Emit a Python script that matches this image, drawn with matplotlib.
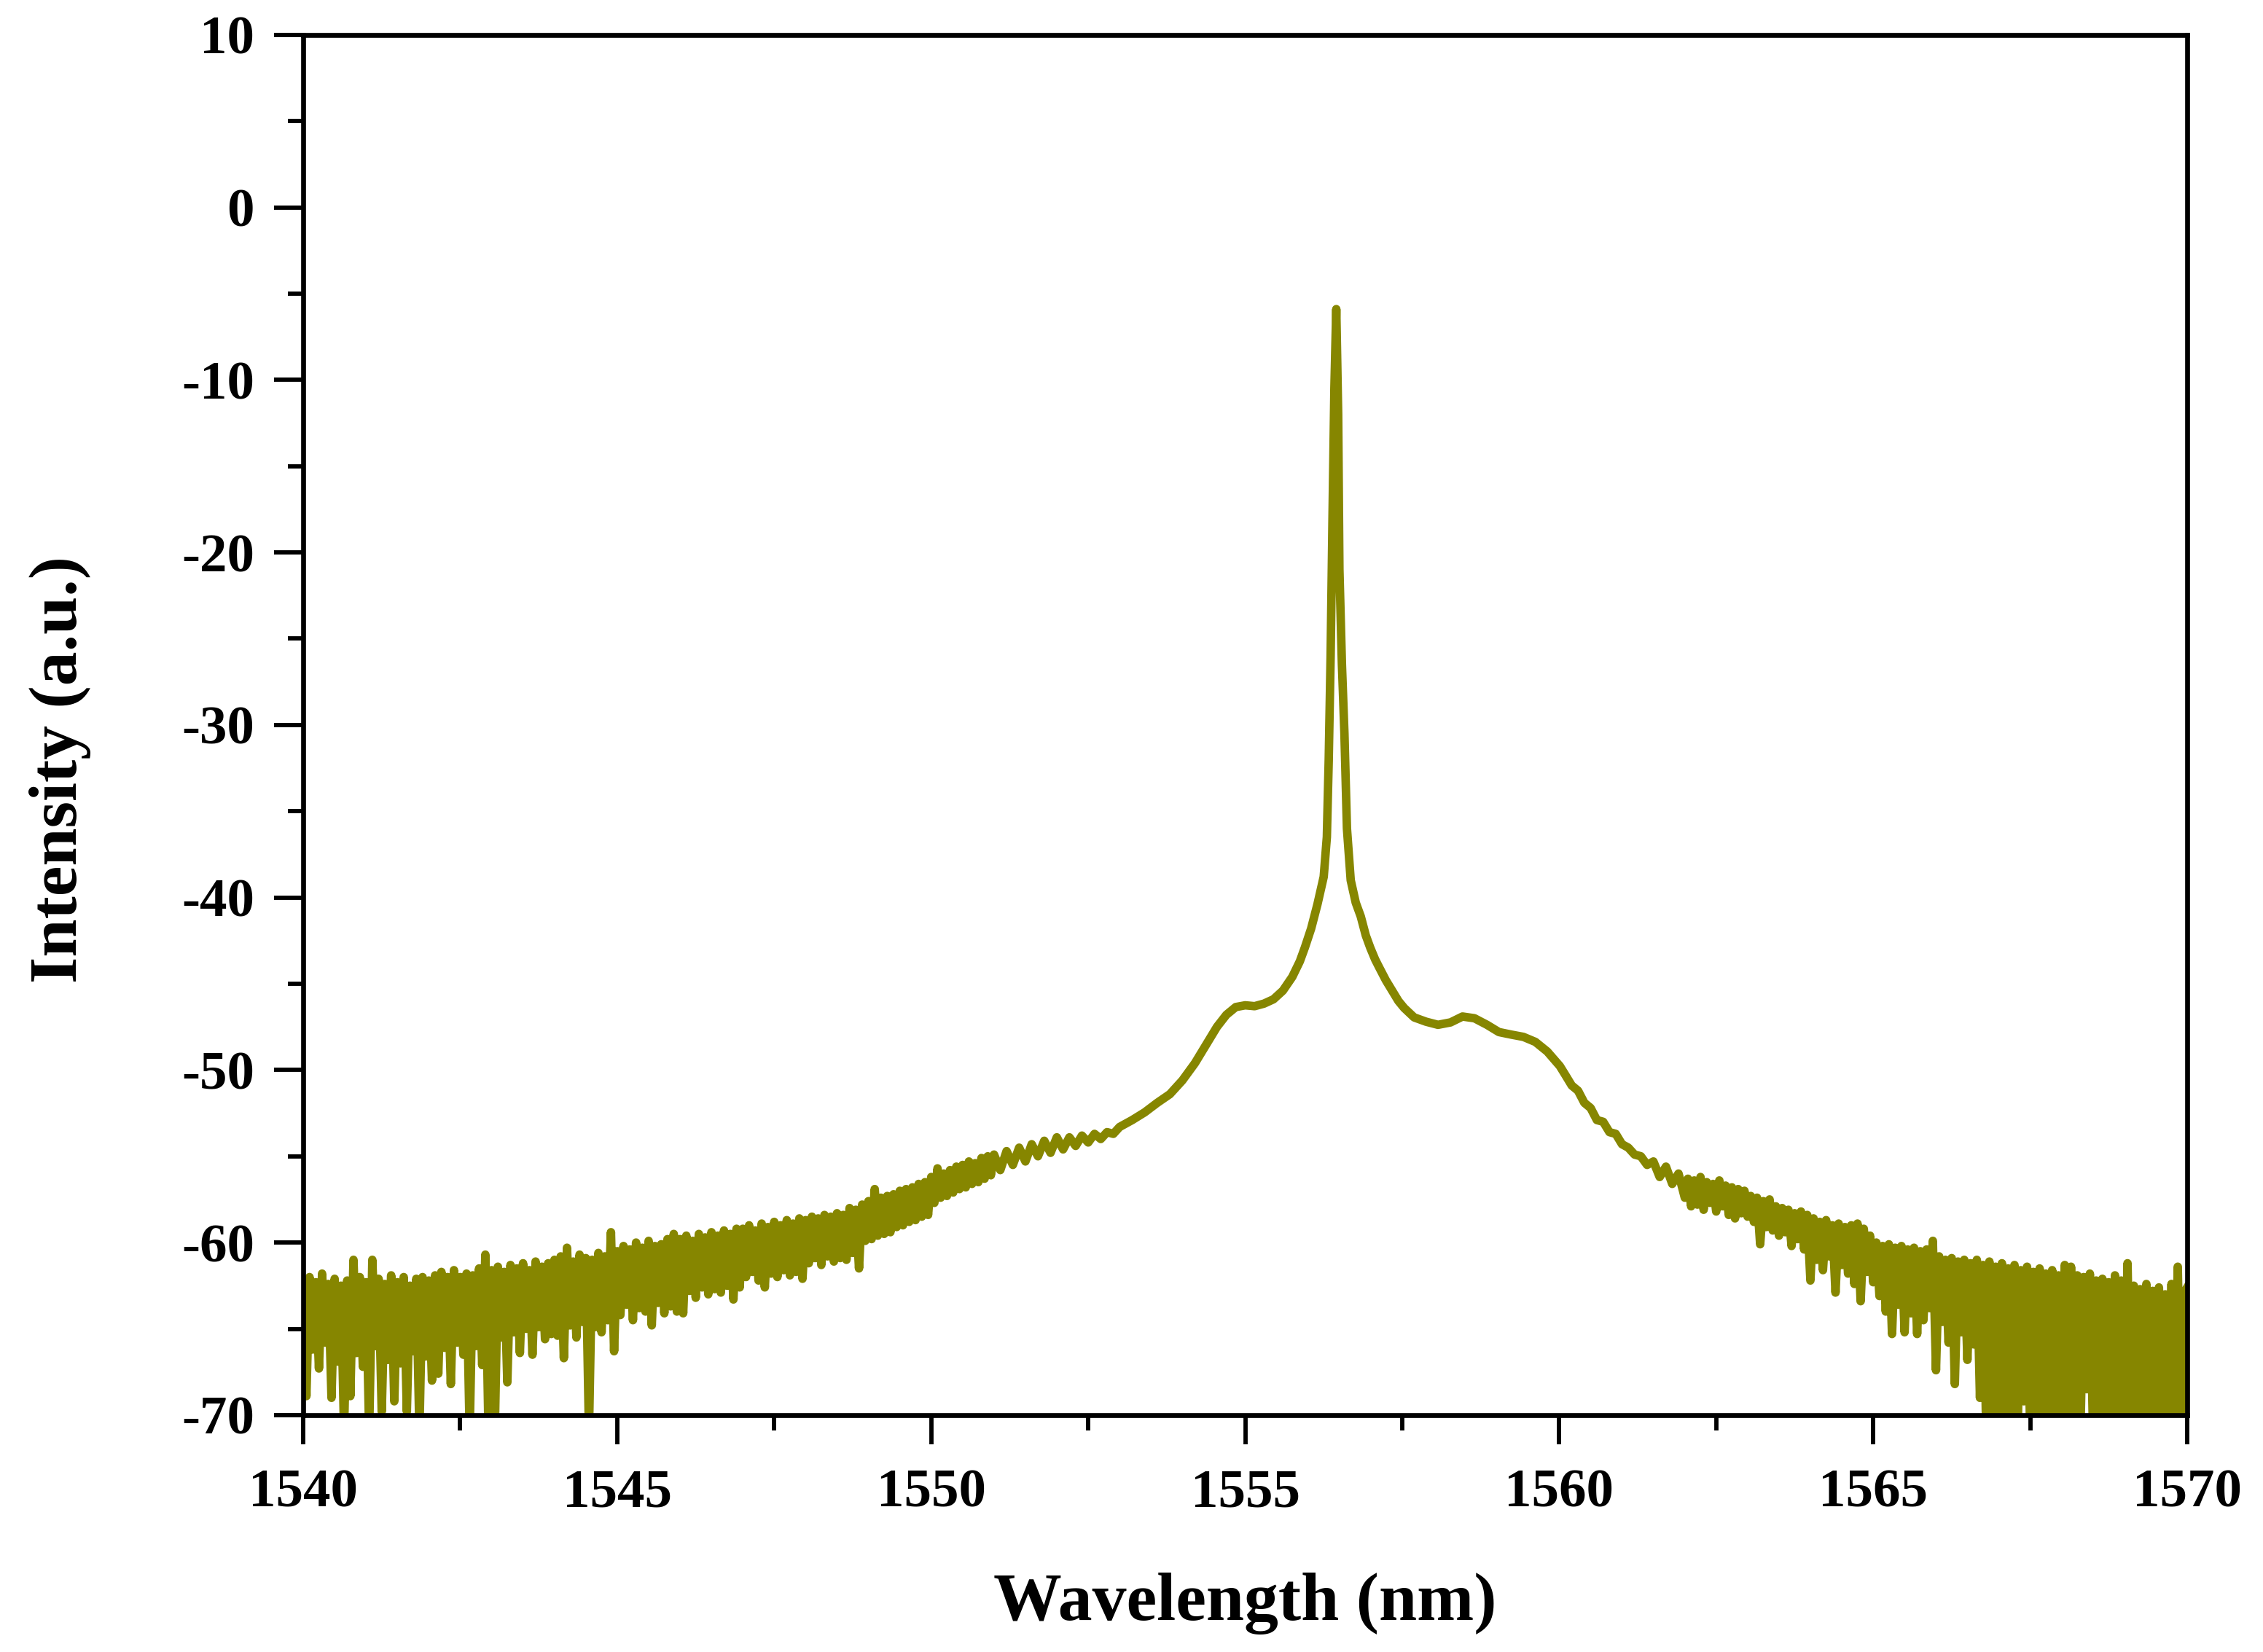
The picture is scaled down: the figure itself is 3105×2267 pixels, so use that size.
import numpy as np
import matplotlib.pyplot as plt
from matplotlib.ticker import MultipleLocator

plt.rcParams['font.family'] = ['Liberation Serif', 'DejaVu Serif']
plt.rcParams['font.weight'] = 'bold'
plt.rcParams['axes.unicode_minus'] = False

# noisy short-wavelength side, 0.05 nm sampling (1540.00 ... 1550.95)
int_a = [
    -62.6, -68.9, -62.0, -66.2, -62.3, -67.3, -61.8, -65.8, -62.4, -69.0,
    -62.1, -66.9, -62.5, -71.0, -62.2, -68.9, -61.0, -66.4, -62.0, -67.2,
    -62.3, -71.0, -61.0, -66.0, -62.1, -69.8, -62.4, -66.8, -61.9, -69.2,
    -62.3, -67.0, -62.0, -69.8, -62.5, -66.3, -62.1, -71.0, -62.0, -66.6,
    -62.2, -68.0, -61.9, -67.6, -61.7, -66.1, -62.0, -68.2, -61.6, -65.8,
    -62.0, -66.5, -61.8, -71.0, -61.9, -66.0, -61.5, -67.1, -60.7, -71.0,
    -61.6, -71.0, -61.4, -65.5, -61.7, -68.1, -61.3, -65.2, -61.5, -66.4,
    -61.2, -65.0, -61.6, -66.5, -61.1, -64.9, -61.4, -65.6, -61.2, -65.3,
    -61.0, -65.4, -60.8, -66.7, -60.3, -64.8, -61.1, -65.5, -60.7, -64.6,
    -60.9, -71.0, -61.0, -64.9, -60.6, -65.2, -60.8, -64.5, -59.4, -66.3,
    -60.5, -64.2, -60.2, -63.6, -60.4, -64.5, -60.0, -63.8, -60.3, -64.0,
    -59.9, -64.8, -60.2, -63.5, -60.1, -64.1, -59.8, -63.7, -59.5, -64.0,
    -59.8, -64.1, -59.6, -62.8, -59.9, -63.2, -59.5, -62.6, -59.7, -63.0,
    -59.4, -62.7, -59.6, -62.9, -59.3, -62.5, -59.5, -63.3, -59.2, -62.6,
    -59.2, -62.0, -59.0, -61.7, -59.3, -62.2, -58.9, -62.6, -59.1, -61.8,
    -58.8, -62.0, -59.0, -61.6, -58.7, -61.9, -58.9, -61.7, -58.6, -62.1,
    -58.7, -61.2, -58.5, -60.9, -58.6, -61.3, -58.4, -60.8, -58.5, -61.1,
    -58.3, -60.9, -58.4, -61.0, -58.0, -60.6, -58.1, -61.5, -57.8, -59.9,
    -57.6, -59.8, -56.9, -59.6, -57.4, -59.5, -57.3, -59.4, -57.2, -59.1,
    -57.0, -59.0, -56.9, -58.8, -56.8, -58.7, -56.6, -58.5, -56.5, -58.4,
    -56.2, -57.7, -55.7, -57.4, -56.0, -57.3, -55.8, -57.1, -55.6, -56.9,
    -55.5, -56.8, -55.3, -56.6, -55.4, -56.5, -55.1, -56.3, -55.0, -56.1,
]
wl_a = np.linspace(1540.0, 1550.95, len(int_a))

# quieter part before the left shoulder, 0.1 nm sampling (1551.0 ... 1552.9)
int_b = [
    -54.9, -55.8, -54.7, -55.5, -54.5, -55.3, -54.3, -55.0, -54.1, -54.8,
    -53.9, -54.6, -53.9, -54.4, -53.8, -54.2, -53.7, -54.0, -53.6, -53.7,
]
wl_b = np.linspace(1551.0, 1552.9, len(int_b))

# shoulders and lasing peak
wl_center = [
    1553.0, 1553.2, 1553.4, 1553.6, 1553.8, 1554.0, 1554.2, 1554.4, 1554.55,
    1554.7, 1554.85, 1555.0, 1555.15, 1555.3, 1555.45, 1555.6, 1555.75,
    1555.87, 1555.95, 1556.05, 1556.15, 1556.25, 1556.30, 1556.33, 1556.36,
    1556.39, 1556.42, 1556.45, 1556.48, 1556.50, 1556.54, 1556.58, 1556.62,
    1556.68, 1556.76, 1556.84, 1556.92, 1556.99, 1557.07, 1557.14, 1557.24,
    1557.34, 1557.44, 1557.53, 1557.69, 1557.88, 1558.07, 1558.27, 1558.46,
    1558.65, 1558.85, 1559.04, 1559.24, 1559.43, 1559.62, 1559.81, 1560.01,
]
int_center = [
    -53.3, -52.9, -52.45, -51.9, -51.4, -50.6, -49.6, -48.4, -47.5,
    -46.8, -46.35, -46.25, -46.3, -46.15, -45.9, -45.4, -44.6,
    -43.7, -42.9, -41.8, -40.4, -38.8, -36.5, -32.0, -26.0,
    -18.0, -10.5, -5.9, -12.0, -21.0, -26.5, -30.5, -36.0,
    -39.0, -40.3, -41.1, -42.2, -42.9, -43.6, -44.1, -44.8,
    -45.4, -46.0, -46.4, -46.95, -47.2, -47.38, -47.24, -46.9,
    -47.0, -47.38, -47.8, -47.95, -48.08, -48.37, -48.93, -49.77,
]

# right slope, 0.1 nm sampling (1560.1 ... 1561.9)
int_c = [
    -50.3, -50.9, -51.2, -51.9, -52.2, -52.9, -53.0, -53.6, -53.7, -54.3,
    -54.5, -54.9, -55.0, -55.5, -55.3, -56.2, -55.6, -56.6, -56.0,
]
wl_c = np.linspace(1560.1, 1561.9, len(int_c))

# noisy long-wavelength side, 0.05 nm sampling (1562.00 ... 1570.00)
int_d = [
    -57.4, -56.3, -57.9, -56.4, -57.8, -56.2, -58.1, -56.5, -57.7, -56.6,
    -58.2, -56.4, -57.9, -56.7, -58.4, -56.8, -58.6, -56.9, -58.3, -57.0,
    -58.5, -57.3, -58.8, -57.4, -60.1, -57.6, -59.1, -57.5, -59.3, -57.9,
    -59.6, -58.0, -59.4, -58.1, -60.2, -58.3, -59.8, -58.2, -60.4, -58.4,
    -62.2, -58.6, -61.0, -58.8, -61.6, -58.7, -60.8, -59.0, -62.9, -58.9,
    -61.3, -59.1, -61.8, -59.0, -62.4, -58.9, -63.4, -59.2, -61.7, -59.6,
    -62.3, -60.0, -63.1, -60.2, -64.0, -60.1, -65.3, -60.3, -63.6, -60.2,
    -65.2, -60.4, -64.1, -60.3, -65.3, -60.5, -64.5, -60.4, -63.8, -59.9,
    -67.4, -60.8, -64.6, -61.0, -65.8, -60.9, -68.2, -61.1, -65.2, -61.0,
    -66.8, -61.2, -65.9, -61.0, -69.0, -61.3, -71.0, -61.1, -71.0, -61.4,
    -71.0, -61.2, -71.0, -61.5, -71.0, -61.3, -71.0, -61.6, -69.2, -61.4,
    -71.0, -61.7, -71.0, -61.5, -70.0, -61.8, -71.0, -61.6, -71.0, -61.9,
    -71.0, -61.3, -71.0, -61.4, -71.0, -61.9, -71.0, -62.0, -68.5, -61.8,
    -71.0, -62.2, -71.0, -62.1, -71.0, -62.3, -71.0, -61.9, -71.0, -62.2,
    -71.0, -61.2, -71.0, -62.5, -71.0, -62.7, -71.0, -62.4, -71.0, -62.8,
    -71.0, -62.6, -71.0, -63.0, -71.0, -62.4, -71.0, -61.4, -71.0, -62.9,
    -62.6,
]
wl_d = np.linspace(1562.0, 1570.0, len(int_d))

wl = np.concatenate([wl_a, wl_b, wl_center, wl_c, wl_d])
intensity = np.concatenate([int_a, int_b, int_center, int_c, int_d])

fig = plt.figure(figsize=(10.35, 7.557), dpi=300)
ax = fig.add_axes([0.134, 0.1434, 0.8325, 0.8355])

ax.plot(wl, intensity, color='#868600', linewidth=2.8)

ax.set_xlim(1540, 1570)
ax.set_ylim(-70, 10)
ax.xaxis.set_major_locator(MultipleLocator(5))
ax.xaxis.set_minor_locator(MultipleLocator(2.5))
ax.yaxis.set_major_locator(MultipleLocator(10))
ax.yaxis.set_minor_locator(MultipleLocator(5))

for s in ax.spines.values():
    s.set_linewidth(1.6)

ax.tick_params(which='both', direction='out', top=False, right=False, width=1.4)
ax.tick_params(which='major', length=9.6, labelsize=18)
ax.tick_params(which='minor', length=5)
ax.tick_params(axis='x', which='major', pad=8)
ax.tick_params(axis='y', which='major', pad=6.5)

for lab in ax.get_xticklabels() + ax.get_yticklabels():
    lab.set_fontweight('bold')

ax.set_xlabel('Wavelength (nm)', fontsize=22.5, fontweight='bold', labelpad=18)
ax.set_ylabel('Intensity (a.u.)', fontsize=22.5, fontweight='bold')
ax.yaxis.set_label_coords(-0.1126, 0.468)

fig.savefig('out.png', dpi=300)
